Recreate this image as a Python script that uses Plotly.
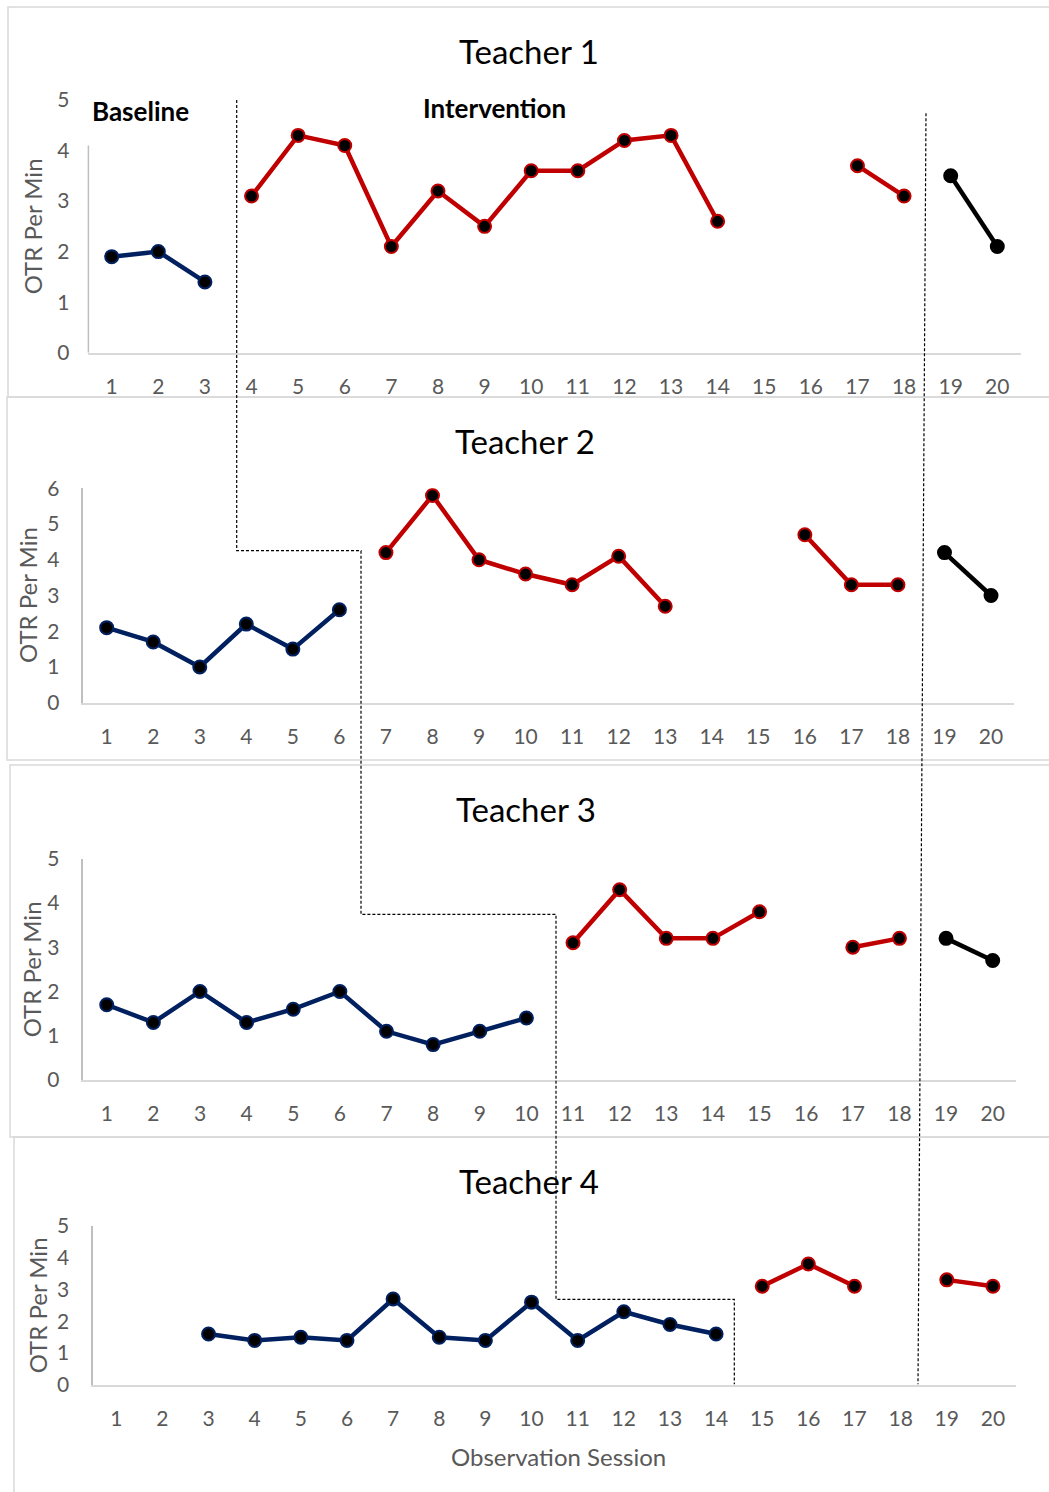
import plotly.graph_objects as go

# ---------------- DATA ----------------
sessions = list(range(1, 21))
tick_labels = [str(s) for s in sessions]
N = None

t1_baseline     = [1.9, 2.0, 1.4] + [N] * 17
t1_intervention = [N, N, N, 3.1, 4.3, 4.1, 2.1, 3.2, 2.5, 3.6, 3.6, 4.2, 4.3, 2.6, N, N, 3.7, 3.1, N, N]
t1_followup     = [N] * 18 + [3.5, 2.1]

t2_baseline     = [2.1, 1.7, 1.0, 2.2, 1.5, 2.6] + [N] * 14
t2_intervention = [N] * 6 + [4.2, 5.8, 4.0, 3.6, 3.3, 4.1, 2.7, N, N, 4.7, 3.3, 3.3, N, N]
t2_followup     = [N] * 18 + [4.2, 3.0]

t3_baseline     = [1.7, 1.3, 2.0, 1.3, 1.6, 2.0, 1.1, 0.8, 1.1, 1.4] + [N] * 10
t3_intervention = [N] * 10 + [3.1, 4.3, 3.2, 3.2, 3.8, N, 3.0, 3.2, N, N]
t3_followup     = [N] * 18 + [3.2, 2.7]

t4_baseline     = [N, N, 1.6, 1.4, 1.5, 1.4, 2.7, 1.5, 1.4, 2.6, 1.4, 2.3, 1.9, 1.6] + [N] * 6
t4_intervention = [N] * 14 + [3.1, 3.8, 3.1, N, N, N]
t4_followup     = [N] * 18 + [3.3, 3.1]

teacher_titles = ["Teacher 1", "Teacher 2", "Teacher 3", "Teacher 4"]
y_max = [5, 6, 5, 5]

# ---------------- STYLE / LAYOUT ----------------
W, H = 1049, 1492
FONT = "Lato"
NAVY, RED, BLACK = "#002060", "#C00000", "#000000"
TICK_COLOR = "#595959"

def px(x):
    return x / W

def py(y):
    return 1 - y / H

# plot-area pixel geometry per panel: left, right, bottom(y=0), top(y=max)
panel_geom = [
    (88.4, 1020.6, 352.7, 100.0),
    (83.4, 1014.3, 702.7, 488.3),
    (83.4, 1016.0, 1080.0, 858.7),
    (93.2, 1016.0, 1385.0, 1225.7),
]
# panel frames (pixels)
frames = [(8, 7, 1053, 397), (7, 397, 1053, 760), (10, 765, 1053, 1137), (14, 1137, 1053, 1496)]
title_pos = [(528.5, 51), (524.5, 441), (526, 809), (529, 1181)]
ytitle_x = [32, 27.5, 31, 37]

series = [
    (t1_baseline, t1_intervention, t1_followup, BLACK),
    (t2_baseline, t2_intervention, t2_followup, BLACK),
    (t3_baseline, t3_intervention, t3_followup, BLACK),
    (t4_baseline, t4_intervention, t4_followup, RED),
]

fig = go.Figure()
shapes = []
annotations = []

for i in range(4):
    xa = "x" if i == 0 else f"x{i+1}"
    ya = "y" if i == 0 else f"y{i+1}"
    xkey = "xaxis" if i == 0 else f"xaxis{i+1}"
    ykey = "yaxis" if i == 0 else f"yaxis{i+1}"
    l, r, b, t = panel_geom[i]
    base, inter, fol, fcol = series[i]
    for vals, col in ((base, NAVY), (inter, RED), (fol, fcol)):
        fig.add_trace(go.Scatter(
            x=sessions, y=vals, xaxis=xa, yaxis=ya, mode="lines+markers",
            connectgaps=False, showlegend=False, hoverinfo="x+y",
            line=dict(color=col, width=4.5),
            marker=dict(color="black", size=13, line=dict(color=col, width=2)),
        ))
    fig.layout[xkey] = dict(
        domain=[px(l), px(r)], anchor=ya, range=[0.5, 20.5],
        tickmode="array", tickvals=sessions, ticktext=tick_labels,
        showgrid=False, zeroline=False, showline=True, linecolor="#d9d9d9", linewidth=1.5,
        ticks="", ticklabelstandoff=14,
        tickfont=dict(family=FONT, size=21, color=TICK_COLOR),
    )
    fig.layout[ykey] = dict(
        domain=[py(b), py(t)], anchor=xa, range=[0, y_max[i]],
        tickmode="array", tickvals=list(range(0, y_max[i] + 1)),
        showgrid=False, zeroline=False, showline=(i != 0), linecolor="#bfbfbf", linewidth=1.5,
        ticks="", ticklabelstandoff=18,
        tickfont=dict(family=FONT, size=21, color=TICK_COLOR),
    )
    fx0, fy0, fx1, fy1 = frames[i]
    shapes.append(dict(type="rect", xref="paper", yref="paper",
                       x0=px(fx0), y0=py(fy0), x1=px(fx1), y1=py(fy1),
                       line=dict(color="#d9d9d9", width=1.5), layer="below"))
    tx, ty = title_pos[i]
    annotations.append(dict(text=teacher_titles[i], xref="paper", yref="paper",
                            x=px(tx), y=py(ty), xanchor="center", yanchor="middle",
                            showarrow=False, font=dict(family=FONT, size=33, color="black")))
    annotations.append(dict(text="OTR Per Min", xref="paper", yref=f"{ya} domain",
                            x=px(ytitle_x[i]), y=0.5, xanchor="center", yanchor="middle",
                            textangle=-90, showarrow=False,
                            font=dict(family=FONT, size=24, color=TICK_COLOR)))

# panel 1 y-axis line (partly hidden by the Baseline label box in the original)
shapes.append(dict(type="line", xref="x domain", yref="y", x0=0, x1=0, y0=0, y1=4.1,
                   line=dict(color="#bfbfbf", width=1.5)))

# phase labels
annotations.append(dict(text="<b>Baseline</b>", xref="paper", yref="paper",
                        x=px(90), y=py(111), xanchor="left", yanchor="middle", showarrow=False,
                        font=dict(family=FONT, size=26, color="black")))
annotations.append(dict(text="<b>Intervention</b>", xref="paper", yref="paper",
                        x=px(421), y=py(108), xanchor="left", yanchor="middle", showarrow=False,
                        font=dict(family=FONT, size=26, color="black")))
# x-axis title
annotations.append(dict(text="Observation Session", xref="paper", yref="paper",
                        x=px(558), y=py(1456), xanchor="center", yanchor="middle", showarrow=False,
                        font=dict(family=FONT, size=24, color=TICK_COLOR)))

# phase-change lines (pixel positions)
phase_a = [(236.7, 100), (236.7, 550.7), (361, 550.7), (361, 914.3), (556, 914.3),
           (556, 1299.3), (734.3, 1299.3), (734.3, 1384.3)]
phase_b = [(926, 113.3), (918, 1384.3)]
for pts in (phase_a, phase_b):
    path = "M " + " L ".join(f"{px(x):.5f},{py(y):.5f}" for x, y in pts)
    shapes.append(dict(type="path", xref="paper", yref="paper", path=path,
                       line=dict(color="black", width=1.2, dash="3px,2px")))

fig.update_layout(
    width=W, height=H, margin=dict(l=0, r=0, t=0, b=0),
    paper_bgcolor="white", plot_bgcolor="rgba(0,0,0,0)",
    template="none", showlegend=False,
    shapes=shapes, annotations=annotations,
    font=dict(family=FONT),
)

fig.write_html("out.html", config={"displayModeBar": False},
               post_script="document.body.style.margin='0';document.body.style.overflow='hidden';")
